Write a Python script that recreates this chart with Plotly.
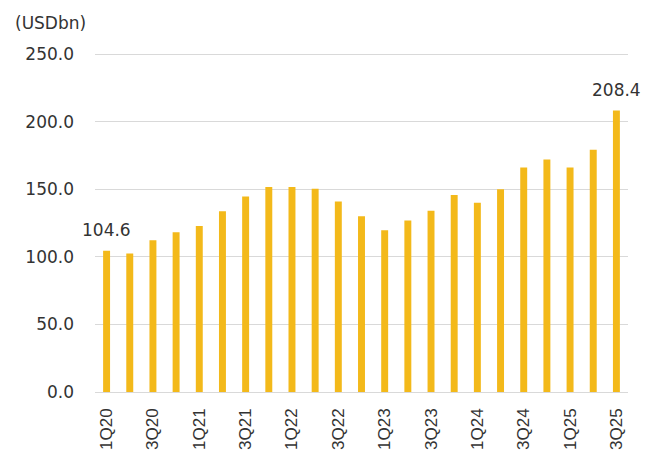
import plotly.graph_objects as go

# Quarterly values, USD bn
quarters = ["1Q20", "2Q20", "3Q20", "4Q20",
            "1Q21", "2Q21", "3Q21", "4Q21",
            "1Q22", "2Q22", "3Q22", "4Q22",
            "1Q23", "2Q23", "3Q23", "4Q23",
            "1Q24", "2Q24", "3Q24", "4Q24",
            "1Q25", "2Q25", "3Q25"]
values = [104.6, 102.5, 112.3, 118.2,
          123.0, 133.8, 144.8, 151.7,
          151.7, 150.5, 141.0, 130.2,
          119.8, 126.9, 134.2, 145.9,
          140.1, 150.1, 166.2, 172.2,
          166.2, 179.4, 208.4]
y_ticks = [0, 50, 100, 150, 200, 250]
x_ticks = quarters[::2]
labelled = [0, len(quarters) - 1]

BAR = "#F3B91A"
TEXT = "#333333"
FONT = "DejaVu Sans"

fig = go.Figure(go.Bar(
    x=quarters,
    y=values,
    marker=dict(color=BAR, line=dict(width=0)),
    width=0.3,
))

for i in labelled:
    fig.add_annotation(
        x=quarters[i], y=values[i], text=f"{values[i]:.1f}",
        showarrow=False, yanchor="bottom", yshift=9,
        font=dict(family=FONT, size=17, color=TEXT),
    )

fig.add_annotation(
    x=0, y=1, xref="paper", yref="paper", xshift=-82, yshift=18,
    xanchor="left", yanchor="bottom", text="(USDbn)", showarrow=False,
    font=dict(family=FONT, size=17, color=TEXT),
)

fig.update_layout(
    width=659, height=459,
    margin=dict(l=95, r=31, t=53, b=67),
    paper_bgcolor="white", plot_bgcolor="white",
    showlegend=False,
    xaxis=dict(
        type="category",
        range=[-0.5, len(quarters) - 0.5],
        tickmode="array", tickvals=x_ticks, ticktext=x_ticks,
        tickangle=-90, showgrid=False, ticks="",
        ticklabelstandoff=12, automargin=False,
        tickfont=dict(family="Liberation Sans", size=17, color=TEXT),
        showline=False,
    ),
    yaxis=dict(
        range=[0, 251],
        tickmode="array", tickvals=y_ticks,
        ticktext=[f"{v:.1f}" for v in y_ticks],
        showgrid=True, gridcolor="#d9d9d9", gridwidth=1,
        zeroline=True, zerolinecolor="#d9d9d9", zerolinewidth=1,
        ticks="", ticklabelstandoff=20, automargin=False,
        tickfont=dict(family=FONT, size=17, color=TEXT),
    ),
    bargap=0.7,
)

fig.write_html("out.html")
